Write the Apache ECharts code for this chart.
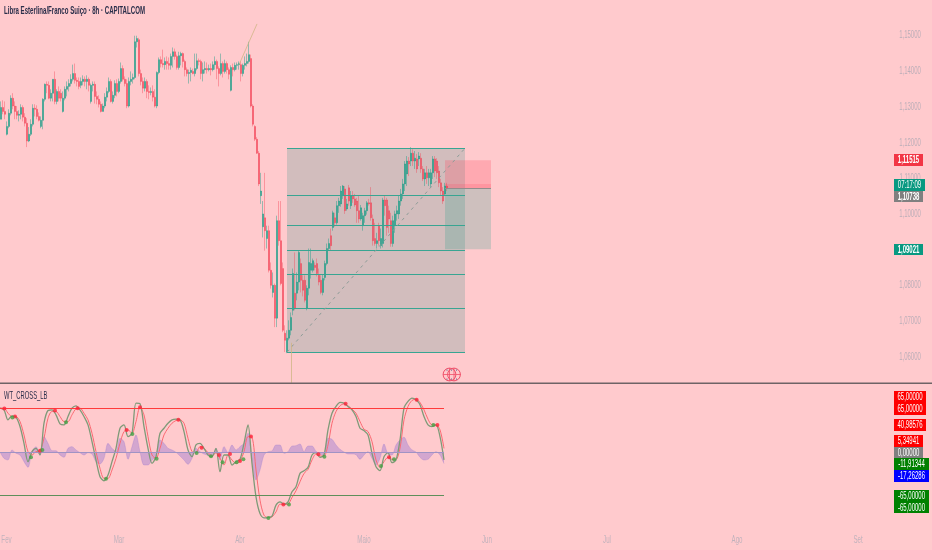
<!DOCTYPE html>
<html><head><meta charset="utf-8">
<script src="https://cdn.jsdelivr.net/npm/echarts@6/dist/echarts.min.js"></script>
<style>html,body{margin:0;padding:0;background:#ffcacd}#c{width:932px;height:550px}</style>
</head><body><div id="c"></div>
<script>
const opens=[1.1266,1.1299,1.1288,1.1224,1.1246,1.1283,1.1325,1.1303,1.1288,1.1277,1.1280,1.1299,1.1272,1.1255,1.1205,1.1224,1.1252,1.1297,1.1294,1.1274,1.1246,1.1263,1.1322,1.1364,1.1361,1.1325,1.1339,1.1378,1.1316,1.1344,1.1339,1.1288,1.1325,1.1350,1.1358,1.1366,1.1378,1.1394,1.1375,1.1372,1.1361,1.1372,1.1378,1.1372,1.1378,1.1316,1.1361,1.1364,1.1330,1.1322,1.1308,1.1288,1.1303,1.1328,1.1344,1.1372,1.1316,1.1333,1.1366,1.1344,1.1372,1.1408,1.1378,1.1366,1.1303,1.1372,1.1378,1.1383,1.1483,1.1489,1.1394,1.1372,1.1353,1.1372,1.1344,1.1341,1.1344,1.1328,1.1303,1.1397,1.1433,1.1422,1.1419,1.1428,1.1422,1.1417,1.1442,1.1455,1.1442,1.1411,1.1444,1.1450,1.1428,1.1405,1.1394,1.1397,1.1400,1.1394,1.1408,1.1430,1.1428,1.1394,1.1405,1.1408,1.1405,1.1408,1.1405,1.1419,1.1428,1.1408,1.1394,1.1422,1.1400,1.1422,1.1405,1.1347,1.1411,1.1405,1.1417,1.1419,1.1419,1.1394,1.1417,1.1422,1.1428,1.1436,1.1303,1.1246,1.1210,1.1171,1.1052,1.0965,1.0990,1.0932,1.0954,1.0843,1.0781,1.0801,1.0709,1.0982,1.0926,1.0848,1.0667,1.0614,1.0653,1.0675,1.0731,1.0779,1.0779,1.0810,1.0862,1.0815,1.0815,1.0737,1.0793,1.0843,1.0843,1.0857,1.0862,1.0829,1.0815,1.0781,1.0823,1.0862,1.0904,1.0940,1.0963,1.0990,1.0976,1.1024,1.1029,1.1052,1.1071,1.1015,1.1074,1.1024,1.1052,1.1043,1.1037,1.1010,1.0987,1.0968,1.0996,1.1010,1.1032,1.1032,1.0987,1.0932,1.0918,1.0968,1.0912,1.0918,1.1040,1.1040,1.1010,1.0982,1.0918,1.0968,1.1001,1.1001,1.1037,1.1057,1.1085,1.1113,1.1149,1.1149,1.1171,1.1149,1.1155,1.1155,1.1157,1.1127,1.1099,1.1116,1.1102,1.1085,1.1116,1.1155,1.1149,1.1121,1.1088,1.1065,1.1057,1.1079];
const closes=[1.1299,1.1288,1.1280,1.1246,1.1283,1.1325,1.1303,1.1288,1.1277,1.1280,1.1299,1.1272,1.1255,1.1205,1.1224,1.1252,1.1297,1.1294,1.1274,1.1263,1.1263,1.1322,1.1364,1.1361,1.1325,1.1339,1.1378,1.1316,1.1344,1.1325,1.1325,1.1325,1.1350,1.1358,1.1366,1.1378,1.1394,1.1375,1.1372,1.1358,1.1372,1.1378,1.1372,1.1378,1.1361,1.1361,1.1364,1.1330,1.1322,1.1308,1.1288,1.1303,1.1328,1.1344,1.1372,1.1316,1.1333,1.1366,1.1344,1.1372,1.1408,1.1378,1.1366,1.1303,1.1372,1.1378,1.1383,1.1483,1.1492,1.1394,1.1372,1.1353,1.1372,1.1344,1.1341,1.1344,1.1328,1.1303,1.1397,1.1433,1.1422,1.1419,1.1428,1.1422,1.1417,1.1442,1.1455,1.1442,1.1411,1.1444,1.1450,1.1428,1.1405,1.1394,1.1397,1.1403,1.1394,1.1408,1.1430,1.1428,1.1394,1.1405,1.1408,1.1405,1.1408,1.1405,1.1419,1.1428,1.1408,1.1394,1.1422,1.1400,1.1422,1.1405,1.1392,1.1411,1.1405,1.1417,1.1419,1.1422,1.1394,1.1417,1.1422,1.1428,1.1447,1.1303,1.1252,1.1210,1.1171,1.1085,1.1065,1.1001,1.0954,1.0954,1.0843,1.0801,1.0801,1.0709,1.0982,1.0926,1.0806,1.0675,1.0647,1.0653,1.0675,1.0711,1.0834,1.0737,1.0810,1.0893,1.0815,1.0787,1.0759,1.0793,1.0865,1.0862,1.0870,1.0851,1.0834,1.0810,1.0781,1.0820,1.0862,1.0904,1.0918,1.0912,1.1004,1.0976,1.1024,1.1037,1.1065,1.1079,1.1010,1.1029,1.1037,1.1052,1.1043,1.1026,1.1010,1.0987,1.1018,1.0996,1.1010,1.1032,1.1029,1.0990,1.0926,1.0918,1.0926,1.0926,1.0932,1.1040,1.1024,1.0963,1.0987,1.0918,1.0982,1.1001,1.1010,1.1037,1.1057,1.1085,1.1141,1.1149,1.1141,1.1171,1.1149,1.1157,1.1127,1.1163,1.1127,1.1099,1.1116,1.1102,1.1116,1.1116,1.1155,1.1121,1.1116,1.1088,1.1065,1.1037,1.1079,1.10738];
const highs=[1.1316,1.1319,1.1316,1.1260,1.1294,1.1333,1.1339,1.1316,1.1303,1.1291,1.1308,1.1305,1.1283,1.1269,1.1244,1.1266,1.1308,1.1308,1.1305,1.1285,1.1274,1.1325,1.1366,1.1372,1.1372,1.1350,1.1378,1.1400,1.1350,1.1358,1.1350,1.1344,1.1358,1.1372,1.1378,1.1392,1.1419,1.1422,1.1383,1.1383,1.1383,1.1389,1.1386,1.1389,1.1383,1.1366,1.1372,1.1372,1.1344,1.1333,1.1316,1.1310,1.1339,1.1355,1.1383,1.1378,1.1344,1.1375,1.1378,1.1380,1.1425,1.1417,1.1386,1.1378,1.1383,1.1400,1.1394,1.1500,1.1500,1.1494,1.1405,1.1383,1.1383,1.1378,1.1361,1.1355,1.1361,1.1350,1.1400,1.1439,1.1442,1.1461,1.1439,1.1442,1.1439,1.1450,1.1467,1.1464,1.1447,1.1455,1.1455,1.1453,1.1433,1.1411,1.1405,1.1411,1.1408,1.1450,1.1450,1.1436,1.1433,1.1425,1.1428,1.1425,1.1419,1.1422,1.1428,1.1442,1.1433,1.1414,1.1450,1.1428,1.1433,1.1428,1.1411,1.1417,1.1422,1.1425,1.1425,1.1428,1.1428,1.1422,1.1442,1.1450,1.1483,1.1447,1.1308,1.1249,1.1216,1.1177,1.1116,1.1037,1.1116,1.0968,1.0968,1.0865,1.0837,1.0806,1.0996,1.1037,1.1037,1.0865,1.0689,1.0675,1.0703,1.0725,1.0848,1.0893,1.0837,1.0898,1.0876,1.0829,1.0829,1.0801,1.0904,1.0904,1.0876,1.0865,1.0876,1.0848,1.0829,1.0831,1.0870,1.0918,1.0932,1.0960,1.1010,1.1004,1.1037,1.1046,1.1079,1.1082,1.1079,1.1043,1.1082,1.1065,1.1065,1.1057,1.1046,1.1052,1.1026,1.1004,1.1018,1.1037,1.1043,1.1076,1.0999,1.0976,1.0948,1.0976,1.0960,1.1046,1.1052,1.1046,1.1024,1.1004,1.0996,1.1010,1.1024,1.1052,1.1071,1.1099,1.1149,1.1163,1.1160,1.1188,1.1182,1.1177,1.1169,1.1174,1.1171,1.1135,1.1127,1.1135,1.1127,1.1127,1.1163,1.1163,1.1157,1.1135,1.1099,1.1076,1.1088,1.1088];
const lows=[1.1266,1.1280,1.1266,1.1221,1.1241,1.1277,1.1294,1.1266,1.1266,1.1260,1.1266,1.1260,1.1246,1.1188,1.1202,1.1219,1.1246,1.1274,1.1266,1.1260,1.1241,1.1238,1.1316,1.1339,1.1322,1.1316,1.1316,1.1308,1.1308,1.1316,1.1316,1.1285,1.1319,1.1330,1.1344,1.1358,1.1372,1.1366,1.1358,1.1350,1.1353,1.1361,1.1358,1.1350,1.1344,1.1310,1.1344,1.1310,1.1308,1.1299,1.1285,1.1288,1.1297,1.1316,1.1339,1.1313,1.1310,1.1325,1.1330,1.1339,1.1366,1.1372,1.1358,1.1297,1.1299,1.1361,1.1366,1.1378,1.1467,1.1386,1.1361,1.1339,1.1344,1.1325,1.1322,1.1333,1.1316,1.1299,1.1297,1.1392,1.1411,1.1411,1.1405,1.1405,1.1405,1.1405,1.1411,1.1433,1.1405,1.1405,1.1417,1.1411,1.1386,1.1386,1.1366,1.1372,1.1392,1.1386,1.1403,1.1417,1.1378,1.1372,1.1394,1.1394,1.1400,1.1389,1.1400,1.1405,1.1378,1.1358,1.1389,1.1383,1.1394,1.1394,1.1378,1.1344,1.1386,1.1400,1.1405,1.1405,1.1372,1.1386,1.1405,1.1414,1.1422,1.1299,1.1246,1.1205,1.1169,1.1079,1.1029,1.0935,1.0898,1.0904,1.0837,1.0792,1.0767,1.0684,1.0684,1.0912,1.0801,1.0670,1.0614,1.0611,1.0647,1.0661,1.0717,1.0731,1.0759,1.0787,1.0781,1.0770,1.0753,1.0731,1.0773,1.0820,1.0837,1.0843,1.0826,1.0801,1.0776,1.0773,1.0815,1.0857,1.0898,1.0898,1.0954,1.0965,1.0971,1.1004,1.1021,1.1043,1.1001,1.1010,1.1024,1.1015,1.1032,1.1021,1.0976,1.0976,1.0982,1.0954,1.0976,1.0999,1.1024,1.0982,1.0912,1.0912,1.0904,1.0912,1.0904,1.0907,1.0996,1.0940,1.0948,1.0909,1.0909,1.0948,1.0982,1.0987,1.1024,1.1043,1.1065,1.1079,1.1107,1.1135,1.1135,1.1127,1.1116,1.1135,1.1116,1.1093,1.1079,1.1085,1.1079,1.1074,1.1099,1.1104,1.1099,1.1076,1.1054,1.1029,1.1051,1.1065];
const wt1=[65.5,63,48,54,52,38,13,-14.5,0.5,5.5,-4.5,43,62,63,55.5,42,40.5,53,65.5,69,63,53,40.5,15.5,-12,-37,-43,-34.5,-14.5,5.5,35.5,40.5,23,28,73,72,38,5.5,-17,-7,28,35.5,43,48,49,48,30.5,3,-7,10.5,13,5.5,-4.5,-7,5.5,-29.5,-4.5,-4.5,-19.5,-14.5,-11,13,40.5,-17,-67,-92,-98.5,-98,-96,-79.5,-74.5,-78,-74.5,-59.5,-52,-32,-28,-23,-4.5,-1,-8,-4.5,33,58,68,74,73,68,63,53,35.5,32,25.5,-2,-22,-28,-7,-1,-16,-12,18,65.5,75.5,80.5,78,70.5,53,40.5,38,40.5,23,-11.91];
const wt2=[65.5,65.5,58,53,53,45.5,25.5,0.5,-4.5,0.5,2,20.5,50.5,60.5,60.5,53,45.5,45.5,55.5,64.5,65.5,58,48,28,0.5,-24.5,-39.5,-39.5,-27,-9.5,13,30.5,33,28,45.5,67,55.5,23,-4.5,-9.5,5.5,25.5,35.5,43,47,48,43,20.5,0.5,-1,8,5.5,-1,-6,-1,-9.5,-19.5,-4.5,-12,-17,-13.5,0.5,23,22,-27,-72,-94.5,-98,-97,-89.5,-78,-78.5,-78,-68,-58,-44.5,-32,-26,-12,-3,-6,-6,10.5,43,60.5,69,72,69,64,58,45.5,34,30.5,15.5,-12,-23,-14.5,-8,-11,-11,5.5,48,68,77,79,74,63,49,40.5,40.5,33,5.35];
const wtHist=[0,-9.5,-12,3,-2,-4.5,-14.5,-23,0.5,8,-4.5,23,13,2,2,-4.5,-8,5.5,8,3,-1,-4.5,-1,-3,-14.5,-18,-9.5,13,5.5,0.5,20.5,15.5,-11,8,25.5,0.5,-19.5,-19.5,-12,-7,18,13,5.5,3,-0.5,-6,-12,-18.5,-9.5,5.5,0.5,-3,-4.5,-6,5.5,-12,8,-1,10.5,3,8,13,28,-12,-42,-27,-4.5,0.5,1.5,10.5,10.5,-2,0.5,9,9.5,12,0.5,9,9,1,-3,-4.5,20.5,19,10.5,4,0,-3,-3,-4,-11,-4.5,0.5,-9.5,-19.5,-9.5,12,-3,-4.5,10.5,18,22,10.5,3,0,-8,-12,-11,-4.5,0.5,-4.5,-17.26];
const crossRedBars=[2.2,7.5,20,27.5,38.8,63.3,70,89.2,100.8,109.5,115,120,125.5,141.7,159.2,172.8,194.5,208.3,218.7];
const crossRedVals=[65,53,2,62,65.5,33,67,48,6.5,-4.5,-3,-13.5,23,-78.5,-3.5,72,-8,78,40.5];
const crossGreenBars=[6.2,15.5,21.2,33,53,66.2,78.3,98.3,105.5,111.3,118.3,121.7,134.2,144.5,162.2,190.5,197,216.7];
const crossGreenVals=[51.5,-8,3,44.5,-40,27,-10,-1.5,-6.5,-15.5,-15.5,-11,-98.5,-78.5,-7,-21,-11,40.5];
const monthLabels=['Fev','Mar','Abr','Maio','Jun','Jul','Ago','Set'];
const monthBars=[3.25,59.5,120,182,243.5,303.5,368.5,429];
const priceTicks=[1.15,1.14,1.13,1.12,1.11,1.10,1.09,1.08,1.07,1.06];
const fibLevels=[1.11852,1.10529,1.0968,1.08997,1.08315,1.07368,1.06142];
const fibStart=143, fibEnd=232;
const tradeStart=222, tradeEnd=245;
const tradeStop=1.11515, tradeEntry=1.10738, tradeTarget=1.09021;
const slotCount=446, sampleStep=2;

const FONT="'Liberation Sans',sans-serif";
const fmt=v=>v.toFixed(5).replace('.',',');
const candles=opens.map((o,i)=>[o,closes[i],lows[i],highs[i]]);
const zip=(a,f)=>a.map((v,i)=>[f(i),v]);
const samp=i=>i*sampleStep;

const tags=[
 ['1,11515',894,154,29,12,'#f23645','bold'],
 ['07:17:09',894,179,31,12,'#089981',''],
 ['1,10738',894,191,29,11,'#808080','bold'],
 ['1,09021',894,244,29,11,'#089981','bold'],
 ['65,00000',894,391,32,12,'#ff0000',''],
 ['65,00000',894,403,32,12,'#ff0000',''],
 ['40,98576',894,419,32,12,'#ff0000',''],
 ['5,34941',894,435,29,12,'#ff0000',''],
 ['0,00000',894,447,29,11,'#808080',''],
 ['-11,91344',894,458,35,12,'#008000',''],
 ['-17,26286',894,470,35,12,'#0000ff',''],
 ['-65,00000',894,490,35,12,'#008000',''],
 ['-65,00000',894,502,35,11,'#008000','']
];

const option={
 animation:false,
 backgroundColor:'#ffcacd',
 grid:[
  {left:0,width:892,top:-2,height:394.8},
  {left:0,width:892,top:384,height:146}
 ],
 xAxis:[
  {type:'category',gridIndex:0,data:Array.from({length:slotCount},(_,i)=>String(i)),show:false},
  {type:'value',gridIndex:1,min:0,max:slotCount,show:false}
 ],
 yAxis:[
  {type:'value',gridIndex:0,position:'right',min:1.05,max:1.16,interval:0.01,
   axisLine:{show:false},axisTick:{show:false},splitLine:{show:false},axisLabel:{show:false}},
  {type:'value',gridIndex:1,position:'right',min:-116.6,max:101.6,show:false}
 ],
 series:[
  {type:'candlestick',xAxisIndex:0,yAxisIndex:0,z:3,barWidth:1.8,data:candles,
   itemStyle:{color:'#0a9a82',color0:'#f23b50',borderColor:'rgba(10,154,130,.42)',borderColor0:'rgba(242,60,80,.38)',borderWidth:1}},
  {type:'line',name:'overlays',xAxisIndex:0,yAxisIndex:0,z:5,data:[],symbol:'none',silent:true,
   markArea:{silent:true,data:[
    [{coord:[fibStart,fibLevels[0]],itemStyle:{color:'rgba(30,140,125,.2)'}},{coord:[fibEnd,fibLevels[6]]}],
    [{coord:[tradeStart,tradeStop],itemStyle:{color:'rgba(255,70,95,.25)'}},{coord:[tradeEnd,tradeEntry]}],
    [{coord:[tradeStart,1.1085],itemStyle:{color:'rgba(255,70,95,.2)'}},{coord:[tradeEnd,tradeEntry]}],
    [{coord:[tradeStart,tradeEntry],itemStyle:{color:'rgba(10,154,130,.2)'}},{coord:[tradeEnd,tradeTarget]}]
   ]},
   markLine:{silent:true,symbol:'none',label:{show:false},data:[
    ...fibLevels.map(p=>[{coord:[fibStart,p],lineStyle:{color:'#38a592',width:1.2,type:'solid'}},{coord:[fibEnd,p]}]),
    [{coord:[fibStart,1.0614],lineStyle:{color:'#8d9c98',width:1,type:[3,4]}},{coord:[fibEnd,1.1185]}],
    [{coord:[119,1.1419],lineStyle:{color:'rgba(205,180,130,.75)',width:1,type:'solid'}},{coord:[128,1.1533]}],
    [{coord:[145,1.0640],lineStyle:{color:'rgba(205,180,130,.75)',width:1,type:'solid'}},{coord:[145,1.0528]}],
    [{coord:[tradeStart,tradeEntry],lineStyle:{color:'#938c8c',width:1.2,type:'solid'}},{coord:[tradeEnd,tradeEntry]}]
   ]}},
  {type:'line',name:'hist',xAxisIndex:1,yAxisIndex:1,z:2,smooth:0.3,symbol:'none',data:zip(wtHist,samp),
   lineStyle:{color:'rgba(140,110,210,.5)',width:.5},areaStyle:{color:'rgba(140,110,210,.55)'},
   markLine:{silent:true,symbol:'none',label:{show:false},data:[
    [{coord:[0,65],lineStyle:{color:'#ff3b3b',width:1.2,type:'solid'}},{coord:[222,65]}],
    [{coord:[0,-65],lineStyle:{color:'#5f8f5a',width:1.2,type:'solid'}},{coord:[222,-65]}],
    [{coord:[0,0],lineStyle:{color:'#a093c4',width:1.2,type:'solid'}},{coord:[222,0]}]
   ]}},
  {type:'line',name:'WT2',xAxisIndex:1,yAxisIndex:1,z:3,smooth:0.3,symbol:'none',data:zip(wt2,samp),lineStyle:{color:'#fa6a72',width:1}},
  {type:'line',name:'WT1',xAxisIndex:1,yAxisIndex:1,z:4,smooth:0.3,symbol:'none',data:zip(wt1,samp),lineStyle:{color:'#7f9a78',width:1.3}},
  {type:'scatter',xAxisIndex:1,yAxisIndex:1,z:6,symbolSize:4,data:zip(crossRedVals,i=>crossRedBars[i]),itemStyle:{color:'#ff2238'}},
  {type:'scatter',xAxisIndex:1,yAxisIndex:1,z:6,symbolSize:4,data:zip(crossGreenVals,i=>crossGreenBars[i]),itemStyle:{color:'#45a045'}}
 ]
};
const chart=echarts.init(document.getElementById('c'),null,{renderer:'canvas'});
chart.setOption(option);

const label=(text,x,y,font,fill,sx,align,z)=>({type:'text',z:z||20,x:x,y:y,scaleX:sx,
 style:{text:text,font:font+' '+FONT,fill:fill,align:align||'center',verticalAlign:'middle'}});
const iconLines=[[443,374.5,461,374.5],[449.5,368,449.5,381],[454,368,454,381]];
const iconDots=[[447,370],[451.5,370],[456.5,370],[447,379],[451.5,379],[456.5,379]];
chart.setOption({graphic:[
 {type:'rect',z:20,shape:{x:0,y:382.5,width:932,height:1.5},style:{fill:'#6e6366'}},
 label('Libra Esterlina/Franco Suiço · 8h · CAPITALCOM',4,11,'bold 11px','#2a2e4a',0.555,'left'),
 label('WT_CROSS_LB',4,395.5,'11px','#2a2e4a',0.53,'left'),
 {type:'circle',z:20,shape:{cx:449.5,cy:374.5,r:6.4},style:{fill:'rgba(255,255,255,0)',stroke:'#f0506a',lineWidth:1}},
 {type:'circle',z:20,shape:{cx:454,cy:374.5,r:6.4},style:{fill:'rgba(255,255,255,0)',stroke:'#f0506a',lineWidth:1}},
 ...iconLines.map(l=>({type:'line',z:20,shape:{x1:l[0],y1:l[1],x2:l[2],y2:l[3]},style:{stroke:'#f0506a',lineWidth:.8}})),
 ...iconDots.map(d=>({type:'circle',z:20,shape:{cx:d[0],cy:d[1],r:.6},style:{fill:'#3a4a78'}})),
 ...priceTicks.map(v=>label(fmt(v),910,chart.convertToPixel({yAxisIndex:0},v),'10px','#bcaeb8',0.6)),
 ...monthLabels.map((m,i)=>label(m,chart.convertToPixel({xAxisIndex:1},monthBars[i]),540,'11px','#c0b2bc',0.56)),
 ...tags.flatMap(t=>[
  {type:'rect',z:21,shape:{x:t[1],y:t[2],width:t[3],height:t[4]},style:{fill:t[5]}},
  label(t[0],t[1]+t[3]/2,t[2]+t[4]/2+.3,(t[6]+' 10px').trim(),'#fff',0.6,'center',22)
 ])
]});
</script></body></html>
